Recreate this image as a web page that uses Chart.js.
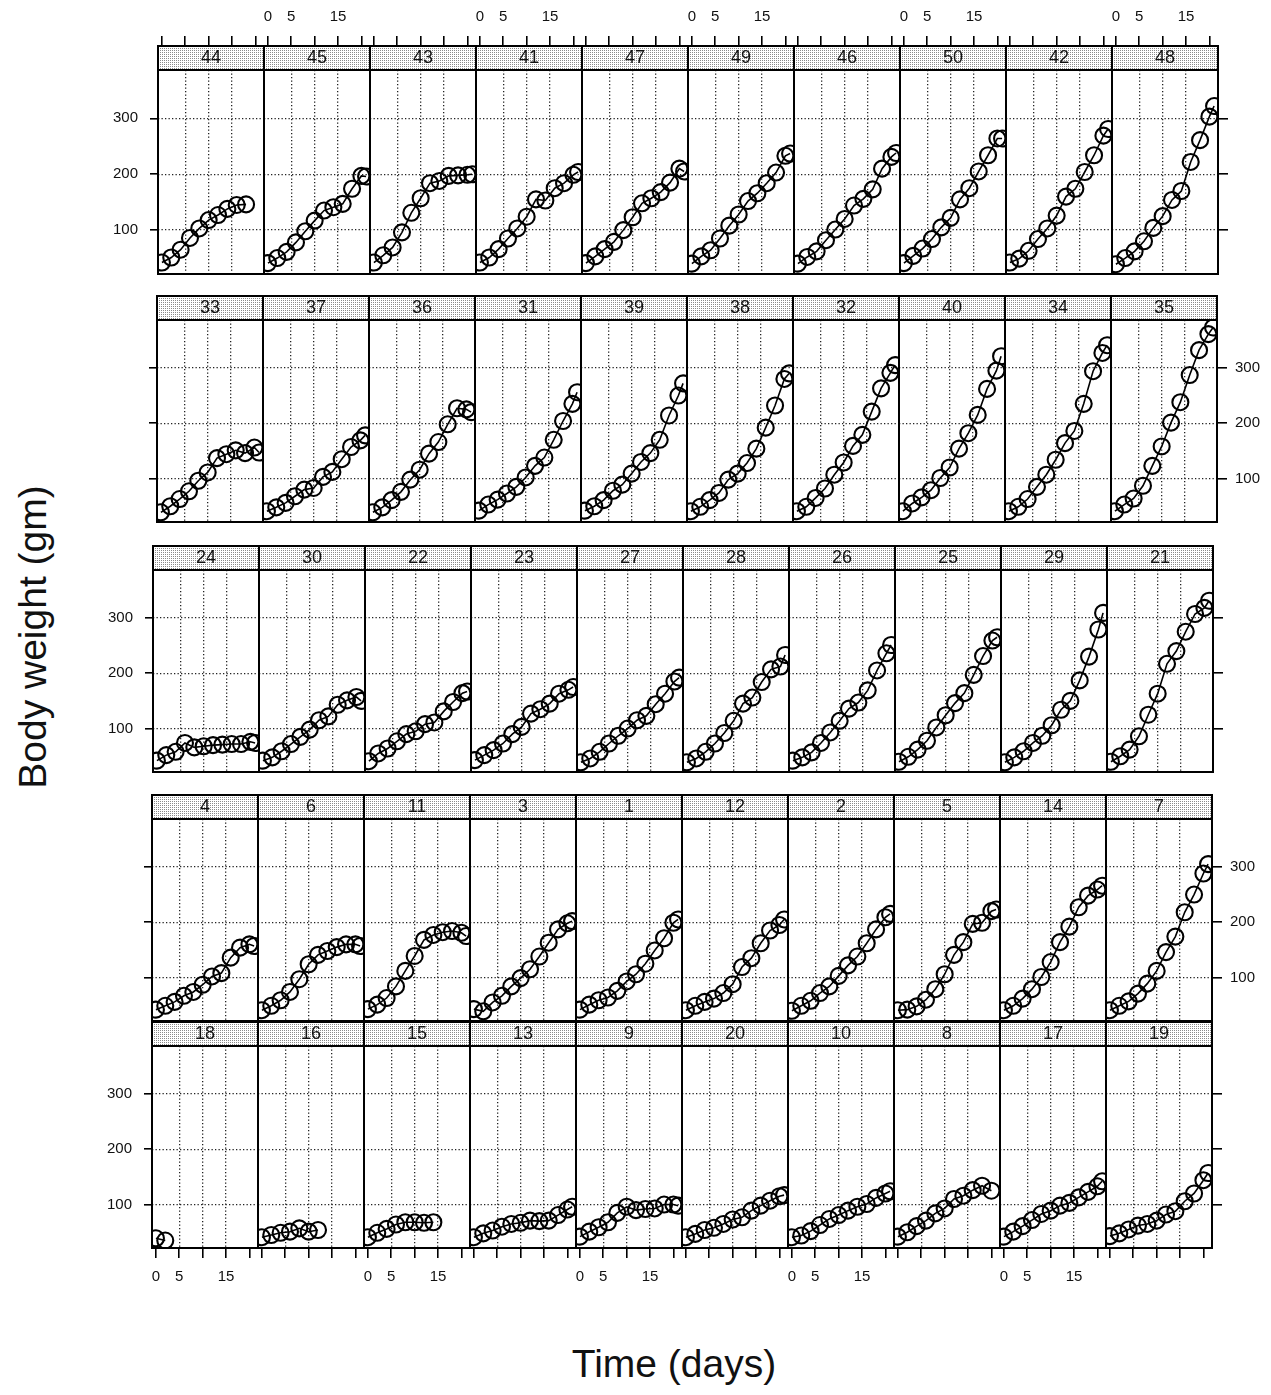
<!DOCTYPE html>
<html>
<head>
<meta charset="utf-8">
<script src="https://cdn.jsdelivr.net/npm/chart.js@4.4.0/dist/chart.umd.min.js"></script>
<style>
  html, body { margin: 0; padding: 0; background: #fff; }
  body { width: 1271px; height: 1395px; position: relative; overflow: hidden; font-family: 'Liberation Sans', Arial, sans-serif; }
  .ytitle { position: absolute; left: 33px; top: 637px; transform: translate(-50%, -50%) rotate(-90deg); font-size: 39px; white-space: nowrap; color: #111; }
  .xtitle { position: absolute; left: 674px; top: 1364px; transform: translate(-50%, -50%); font-size: 39px; white-space: nowrap; color: #111; }
</style>
</head>
<body>
<div class="ytitle">Body weight (gm)</div>
<div class="xtitle">Time (days)</div>
<script>
// days at which each chick was weighed
const times = [0, 2, 4, 6, 8, 10, 12, 14, 16, 18, 20, 21]

// chick numbers in each row of panels, top row first
const row1Chicks = [44, 45, 43, 41, 47, 49, 46, 50, 42, 48]
const row2Chicks = [33, 37, 36, 31, 39, 38, 32, 40, 34, 35]
const row3Chicks = [24, 30, 22, 23, 27, 28, 26, 25, 29, 21]
const row4Chicks = [4, 6, 11, 3, 1, 12, 2, 5, 14, 7]
const row5Chicks = [18, 16, 15, 13, 9, 20, 10, 8, 17, 19]

// body weights (gm), same order as the chick numbers above
const row1Weights = [
  [42, 51, 65, 86, 103, 118, 127, 138, 145, 146],
  [41, 50, 61, 78, 98, 117, 135, 141, 147, 174, 197, 196],
  [42, 55, 69, 96, 131, 157, 184, 188, 197, 198, 199, 200],
  [42, 51, 66, 85, 103, 124, 155, 153, 175, 184, 199, 204],
  [41, 53, 66, 79, 100, 123, 148, 157, 168, 185, 210, 205],
  [40, 53, 64, 85, 108, 128, 152, 166, 184, 203, 233, 237],
  [40, 52, 62, 82, 101, 120, 144, 156, 173, 210, 231, 238],
  [41, 54, 67, 84, 105, 122, 155, 175, 205, 234, 264, 264],
  [42, 49, 63, 84, 103, 126, 160, 174, 204, 234, 269, 281],
  [39, 50, 62, 80, 104, 125, 154, 170, 222, 261, 303, 322],
]
const row2Weights = [
  [39, 50, 63, 77, 96, 111, 137, 144, 151, 146, 156, 147],
  [41, 48, 56, 68, 80, 83, 103, 112, 135, 157, 169, 178],
  [39, 48, 61, 76, 98, 116, 145, 166, 198, 227, 225, 220],
  [42, 53, 62, 73, 85, 102, 123, 138, 170, 204, 235, 256],
  [42, 50, 61, 78, 89, 109, 130, 146, 170, 214, 250, 272],
  [41, 49, 61, 74, 98, 109, 128, 154, 192, 232, 280, 290],
  [41, 49, 65, 82, 107, 129, 159, 179, 221, 263, 291, 305],
  [41, 55, 66, 79, 101, 120, 154, 182, 215, 262, 295, 321],
  [41, 49, 63, 85, 107, 134, 164, 186, 235, 294, 327, 341],
  [41, 53, 64, 87, 123, 158, 201, 238, 287, 332, 361, 373],
]
const row3Weights = [
  [42, 52, 58, 74, 66, 68, 70, 71, 72, 72, 76, 74],
  [42, 48, 59, 72, 85, 98, 115, 122, 143, 151, 157, 150],
  [41, 55, 64, 77, 90, 95, 108, 111, 131, 148, 164, 167],
  [43, 52, 61, 73, 90, 103, 127, 135, 145, 163, 170, 175],
  [39, 46, 58, 73, 87, 100, 115, 123, 144, 163, 185, 192],
  [39, 46, 58, 73, 92, 114, 145, 156, 184, 207, 212, 233],
  [42, 48, 57, 74, 93, 114, 136, 147, 169, 205, 236, 251],
  [40, 49, 62, 78, 102, 124, 146, 164, 197, 231, 259, 265],
  [39, 48, 59, 74, 87, 106, 134, 150, 187, 230, 279, 309],
  [40, 50, 62, 86, 125, 163, 217, 240, 275, 307, 318, 331],
]
const row4Weights = [
  [42, 49, 56, 67, 74, 87, 102, 108, 136, 154, 160, 157],
  [41, 49, 59, 74, 97, 124, 141, 148, 155, 160, 160, 157],
  [43, 51, 63, 84, 112, 139, 168, 177, 182, 184, 181, 175],
  [43, 39, 55, 67, 84, 99, 115, 138, 163, 187, 198, 202],
  [42, 51, 59, 64, 76, 93, 106, 125, 149, 171, 199, 205],
  [41, 49, 56, 62, 72, 88, 119, 135, 162, 185, 195, 205],
  [40, 49, 58, 72, 84, 103, 122, 138, 162, 187, 209, 215],
  [41, 42, 48, 60, 79, 106, 141, 164, 197, 199, 220, 223],
  [41, 49, 62, 79, 101, 128, 164, 192, 227, 248, 259, 266],
  [41, 49, 57, 71, 89, 112, 146, 174, 218, 250, 288, 305],
]
const row5Weights = [
  [39, 35],
  [41, 45, 49, 51, 57, 51, 54],
  [41, 49, 56, 64, 68, 68, 67, 68],
  [41, 48, 53, 60, 65, 67, 71, 70, 71, 81, 91, 96],
  [42, 51, 59, 68, 85, 96, 90, 92, 93, 100, 100, 98],
  [41, 47, 54, 58, 65, 73, 77, 89, 98, 107, 115, 117],
  [41, 44, 52, 63, 74, 81, 89, 96, 101, 112, 120, 124],
  [42, 50, 61, 71, 84, 93, 110, 116, 126, 134, 125],
  [42, 51, 61, 72, 83, 89, 98, 103, 113, 123, 133, 142],
  [43, 48, 55, 62, 65, 71, 82, 88, 106, 120, 144, 157],
]

// axis ticks
const xTickValues = [0, 5, 10, 15, 20]
const xTickLabels = [0, 5, 15]
const xGridValues = [5, 10, 15]
const yTickValues = [100, 200, 300]

const rowChicks = [row1Chicks, row2Chicks, row3Chicks, row4Chicks, row5Chicks]
const rowWeights = [row1Weights, row2Weights, row3Weights, row4Weights, row5Weights]

// layout of the panel grid
const rowLeft = [158, 157, 153, 152, 152]
const stripTop = [46, 296, 546, 795, 1022]
const plotHeight = [204, 202, 202, 202, 202]
const panelW = 106
const stripH = 24
const margin = 2
const xMin = -0.84
const xMax = 21.84
const yMin = 21.5
const yMax = 386.5
const family = "'Liberation Sans', Arial, sans-serif"

const dots = document.createElement('canvas')
dots.width = 2
dots.height = 2
const dctx = dots.getContext('2d')
dctx.fillStyle = '#fff'
dctx.fillRect(0, 0, 2, 2)
dctx.fillStyle = '#8a8a8a'
dctx.fillRect(0, 0, 1, 1)

const stripPlugin = {
  id: 'strip',
  beforeDraw (chart) {
    const tb = chart.titleBlock
    const ctx = chart.ctx
    ctx.save()
    ctx.fillStyle = ctx.createPattern(dots, 'repeat')
    ctx.fillRect(tb.left, tb.top, tb.width, tb.height)
    ctx.restore()
  },
  afterDraw (chart) {
    const tb = chart.titleBlock
    const a = chart.chartArea
    const ctx = chart.ctx
    ctx.save()
    ctx.strokeStyle = '#000'
    ctx.lineWidth = 2
    ctx.strokeRect(a.left, tb.top, a.right - a.left, a.bottom - tb.top)
    ctx.beginPath()
    ctx.moveTo(a.left, a.top)
    ctx.lineTo(a.right, a.top)
    ctx.stroke()
    ctx.restore()
  }
}

// fixed box size, no extra room for half labels sticking out
const fixSize = (s, axis, size) => {
  if (axis === 'x') s.height = size
  else s.width = size
  s.paddingLeft = 0
  s.paddingRight = 0
  s.paddingTop = 0
  s.paddingBottom = 0
}

const gridScale = (axis, position, values) => ({
  type: 'linear',
  axis,
  position,
  min: axis === 'x' ? xMin : yMin,
  max: axis === 'x' ? xMax : yMax,
  afterBuildTicks: s => { s.ticks = values.map(v => ({ value: v })) },
  afterFit: s => fixSize(s, axis, 0),
  ticks: { display: false },
  grid: { color: '#222', lineWidth: 1.3, drawTicks: false },
  border: { display: false, dash: [1.3, 2.2] }
})

const axisScale = (axis, position, values, labels, showLabels, size, tickLength, padding) => ({
  type: 'linear',
  axis,
  position,
  min: axis === 'x' ? xMin : yMin,
  max: axis === 'x' ? xMax : yMax,
  afterBuildTicks: s => { s.ticks = values.map(v => ({ value: v })) },
  afterFit: s => fixSize(s, axis, size),
  ticks: {
    display: showLabels,
    autoSkip: false,
    maxRotation: 0,
    padding,
    color: '#111',
    font: { family, size: 15 },
    callback: v => labels.includes(v) ? String(v) : ''
  },
  grid: { drawOnChartArea: false, drawTicks: true, tickLength, color: '#000', lineWidth: 1.6, tickBorderDash: [] },
  border: { display: false, dash: [] }
})

rowChicks.forEach((chicks, r) => {
  chicks.forEach((chick, c) => {
    const w = rowWeights[r][c]
    const extraLeft = c === 0 ? 60 : 0
    const extraRight = c === 9 ? 60 : 0
    const extraTop = r === 0 ? 46 : 0
    const extraBottom = r === 4 ? 45 : 0

    const width = panelW + extraLeft + extraRight + 2 * margin
    const height = stripH + plotHeight[r] + extraTop + extraBottom + 2 * margin
    const left = Math.round(rowLeft[r] + c * panelW) - extraLeft - margin
    const top = stripTop[r] - extraTop - margin

    const canvas = document.createElement('canvas')
    canvas.width = width
    canvas.height = height
    canvas.style.cssText = `position:absolute;left:${left}px;top:${top}px;width:${width}px;height:${height}px`
    document.body.appendChild(canvas)

    const scales = {
      x: gridScale('x', 'bottom', xGridValues),
      y: gridScale('y', 'left', yTickValues)
    }
    if (r === 0) scales.xt = axisScale('x', 'top', xTickValues, xTickLabels, c % 2 === 1, 46, 10, 10)
    if (r === 4) scales.xb = axisScale('x', 'bottom', xTickValues, xTickLabels, c % 2 === 0, 45, 10, 10)
    if (c === 0) scales.yl = axisScale('y', 'left', yTickValues, yTickValues, r % 2 === 0, 60, 8, 12)
    if (c === 9) scales.yr = axisScale('y', 'right', yTickValues, yTickValues, r % 2 === 1, 60, 10, 8)

    new Chart(canvas, {
      type: 'line',
      data: {
        datasets: [{
          data: w.map((v, i) => ({ x: times[i], y: v })),
          borderColor: '#000',
          borderWidth: 1.6,
          tension: 0,
          pointRadius: 8,
          pointBorderWidth: 2.1,
          pointBorderColor: '#000',
          pointBackgroundColor: 'rgba(0,0,0,0)'
        }]
      },
      options: {
        responsive: false,
        animation: false,
        events: [],
        layout: { autoPadding: false, padding: margin },
        scales,
        plugins: {
          legend: { display: false },
          tooltip: { enabled: false },
          title: {
            display: true,
            text: String(chick),
            position: 'top',
            fullSize: false,
            weight: -100,
            padding: 0,
            color: '#111',
            font: { family, size: 18, weight: 'normal', lineHeight: '24px' }
          }
        }
      },
      plugins: [stripPlugin]
    })
  })
})
</script>
</body>
</html>
